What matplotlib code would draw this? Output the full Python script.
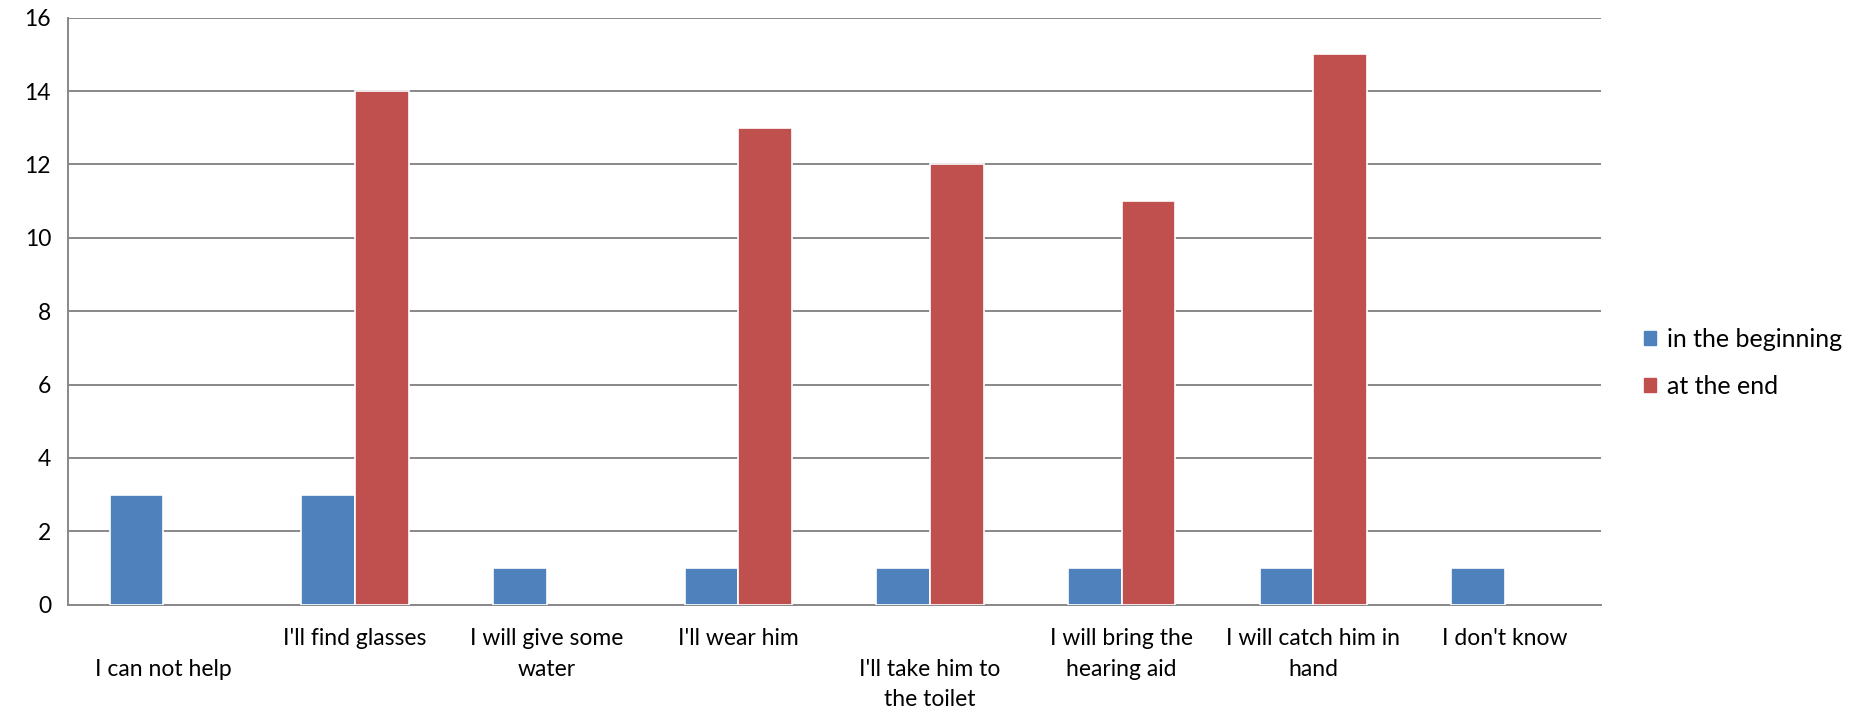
import numpy as np
import matplotlib.pyplot as plt
from matplotlib.patches import Patch

# Chart data.
categories = ["\nI can not help", "I'll find glasses", "I will give some\nwater", "I'll wear him",
              "\nI'll take him to\nthe toilet", "I will bring the\nhearing aid",
              "I will catch him in\nhand", "I don't know"]
beginning = [3, 3, 1, 1, 1, 1, 1, 1]
at_end = [0, 14, 0, 13, 12, 11, 15, 0]
series_names = ["in the beginning", "at the end"]

BLUE = '#4F81BD'
RED = '#C0504D'
GRID = '#888888'
FONT = 'Lato'

fig = plt.figure(figsize=(18.59, 7.17), dpi=100)
ax = fig.add_axes([0.0364, 0.1568, 0.8246, 0.8184])

x = np.arange(len(categories))
w = 0.28
# empty categories get no bar at all (otherwise the white edge shows on the axis)
b = np.where(np.array(beginning) > 0, beginning, np.nan)
e = np.where(np.array(at_end) > 0, at_end, np.nan)
ax.bar(x - w / 2, b, w, color=BLUE, edgecolor='white', linewidth=1.2, zorder=3)
ax.bar(x + w / 2, e, w, color=RED, edgecolor='white', linewidth=1.2, zorder=3)

ax.set_xlim(-0.5, len(categories) - 0.5)
ax.set_ylim(0, 16)
ax.set_yticks(range(0, 17, 2))
ax.yaxis.grid(True, color=GRID, linewidth=1.4, zorder=0)
ax.set_axisbelow(True)

ax.set_xticks(x)
ax.set_xticklabels(categories, fontfamily=FONT, fontsize=16.5, linespacing=1.55)
for lbl in ax.get_yticklabels():
    lbl.set_fontfamily(FONT)
    lbl.set_fontsize(16.5)
ax.tick_params(axis='x', length=0, pad=17)
ax.tick_params(axis='y', length=0, pad=12)

for s in ['top', 'right']:
    ax.spines[s].set_visible(False)
for s in ['left', 'bottom']:
    ax.spines[s].set_color(GRID)
    ax.spines[s].set_linewidth(1.4)

handles = [Patch(color=BLUE), Patch(color=RED)]
fig.legend(handles, series_names, loc='center left', bbox_to_anchor=(0.872, 0.494),
           frameon=False, prop={'family': FONT, 'size': 18}, handlelength=0.5, handleheight=0.5,
           handletextpad=0.45, labelspacing=0.95)

fig.savefig('out.png', dpi=100)
